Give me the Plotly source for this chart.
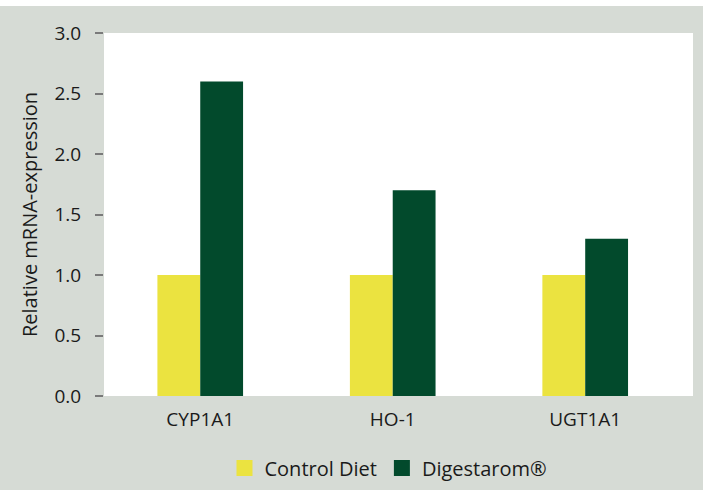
import plotly.graph_objects as go

genes = ["CYP1A1", "HO-1", "UGT1A1"]
control_diet = [1.0, 1.0, 1.0]
digestarom = [2.6, 1.7, 1.3]
y_ticks = [0.0, 0.5, 1.0, 1.5, 2.0, 2.5, 3.0]

GRAY = "#d6dbd5"
YELLOW = "#ebe340"
GREEN = "#024a2c"
FONT = "Open Sans"

fig = go.Figure()
fig.add_trace(go.Bar(x=genes, y=control_diet, name="Control Diet", showlegend=False,
                     marker=dict(color=YELLOW, line=dict(width=0))))
fig.add_trace(go.Bar(x=genes, y=digestarom, name="Digestarom®", showlegend=False,
                     marker=dict(color=GREEN, line=dict(width=0))))
# legend entries with larger square swatches
for name, color in [("Control Diet", YELLOW), ("Digestarom®", GREEN)]:
    fig.add_trace(go.Scatter(x=[None], y=[None], mode="markers", name=name,
                             marker=dict(symbol="square", size=20, color=color)))

fig.update_layout(
    width=703, height=490,
    margin=dict(l=104, r=10, t=33, b=94, autoexpand=False),
    paper_bgcolor=GRAY,
    plot_bgcolor="white",
    font=dict(family=FONT, size=19, color="#1a1a1a"),
    barmode="group",
    bargap=0.555,
    bargroupgap=0,
    showlegend=True,
    legend=dict(orientation="h", x=0.483, xanchor="center",
                yref="container", y=(490 - 468) / 490, yanchor="middle",
                font=dict(size=20), itemsizing="trace", traceorder="normal",
                bgcolor="rgba(0,0,0,0)"),
    xaxis=dict(showgrid=False, showline=False, zeroline=False, ticks="", automargin=False,
               range=[-0.5, 2.56], ticklabelstandoff=10, tickfont=dict(size=19)),
    yaxis=dict(range=[0, 3.0], tickvals=y_ticks, tickformat=".1f", automargin=False,
               showgrid=False, zeroline=False, showline=False,
               ticks="outside", ticklen=8, tickcolor="#7a7a7a", tickwidth=1.5,
               ticklabelstandoff=10, tickfont=dict(size=19),
               title=dict(text="Relative mRNA-expression", font=dict(size=20), standoff=11)),
    yaxis2=dict(range=[0, 3.0], tickvals=y_ticks, overlaying="y", side="left",
                showticklabels=False, showgrid=False, zeroline=False, showline=False,
                ticks="inside", ticklen=8, tickcolor="#7a7a7a", tickwidth=1.5,
                automargin=False),
    # thin white strip along the top edge of the picture
    shapes=[dict(type="rect", xref="paper", yref="paper", x0=-0.3, x1=1.1,
                 ysizemode="pixel", yanchor=1, y0=27, y1=40,
                 fillcolor="white", line=dict(width=0), layer="below")],
)

# drop the default page margin so the figure sits at the window's top-left corner
fig.write_html("out.html", config={"displayModeBar": False},
               post_script="document.body.style.margin='0';")
